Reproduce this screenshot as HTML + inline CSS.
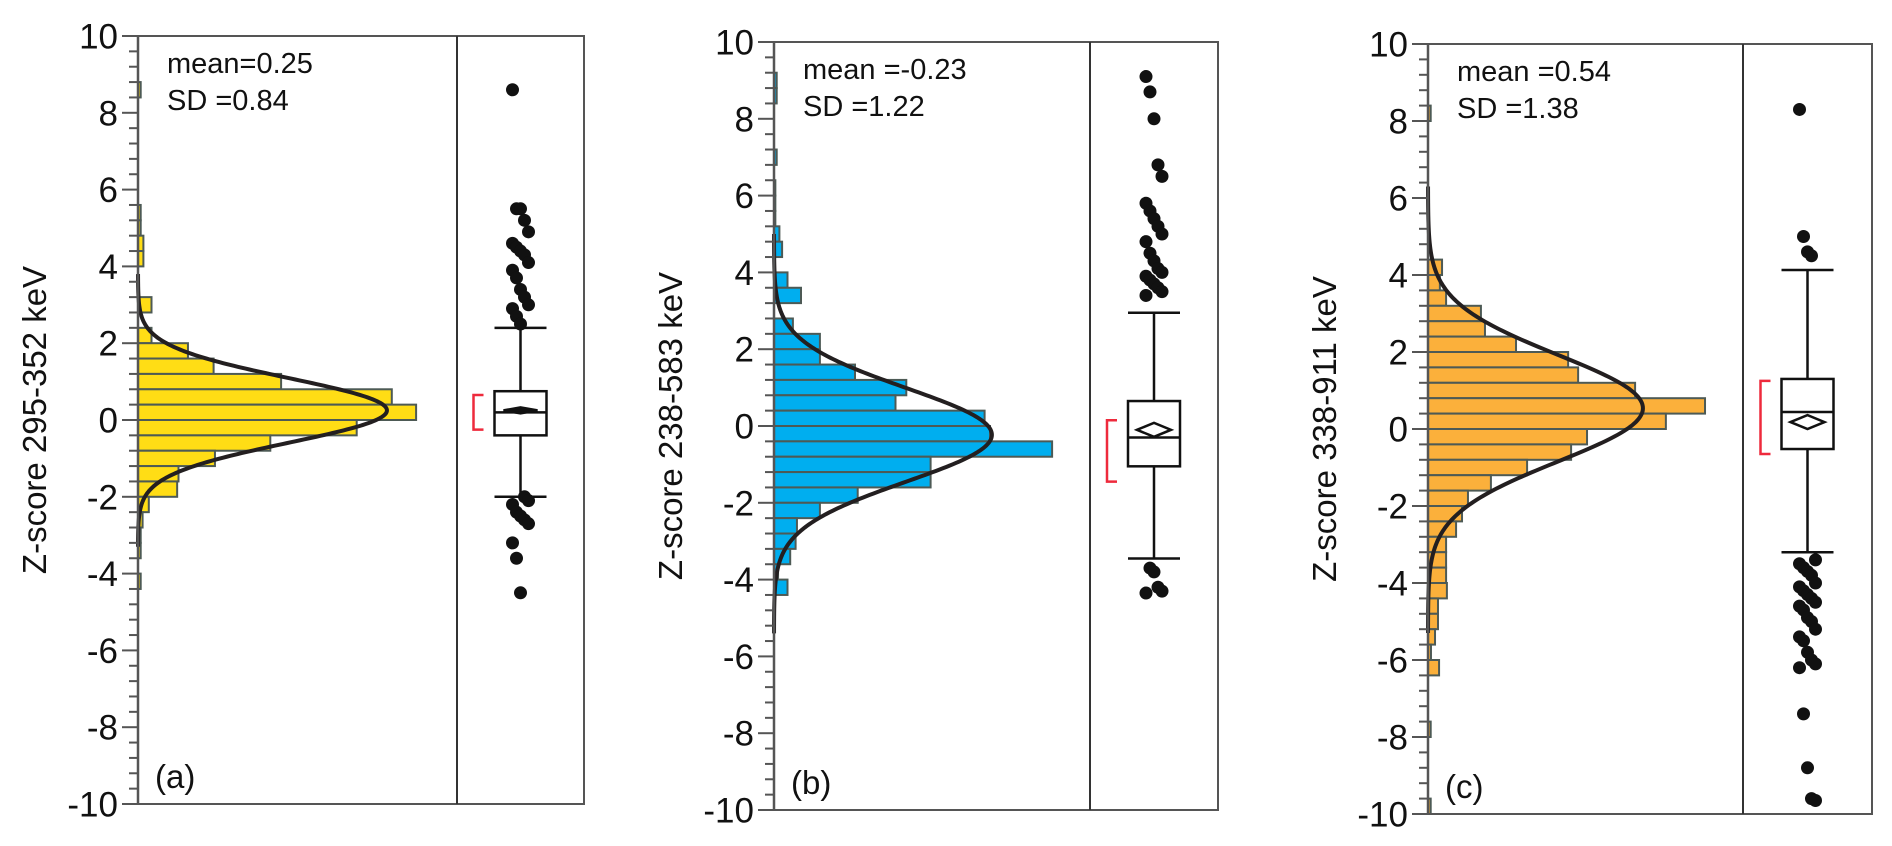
<!DOCTYPE html>
<html><head><meta charset="utf-8">
<style>
html,body{margin:0;padding:0;background:#fff;}
svg{display:block;font-family:"Liberation Sans",Arial,sans-serif;}
</style></head>
<body>
<svg id="chart" width="1892" height="846" viewBox="0 0 1892 846" xmlns="http://www.w3.org/2000/svg"></svg>
<script>
// ---- data: histogram bin lower edges (width 0.4) and counts ----
const binsA = [8.4,5.2,4.8,4.4,4.0,2.8,2.0,1.6,1.2,0.8,0.4,0.0,-0.4,-0.8,-1.2,-1.6,-2.0,-2.4,-2.8,-3.2,-3.6,-4.4];
const countsA = [1,1,1,2,2,5,5,18.5,28,53,94,103,81,49,28.5,15,14.5,4,1.7,1,1,1];
const binsB = [8.8,8.4,6.8,6.0,5.6,5.2,4.8,4.4,3.6,3.2,2.4,2.0,1.6,1.2,0.8,0.4,0.0,-0.4,-0.8,-1.2,-1.6,-2.0,-2.4,-2.8,-3.2,-3.6,-4.0,-4.4];
const countsB = [1,1,1,0.5,0.5,0.5,2,3,5,10,7,17,17,30,49,45,78,80,103,58,58,31,17,8.5,8,6,1.5,5];
const binsC = [8.0,4.0,3.6,3.2,2.8,2.4,2.0,1.6,1.2,0.8,0.4,0.0,-0.4,-0.8,-1.2,-1.6,-2.0,-2.4,-2.8,-3.2,-3.6,-4.0,-4.4,-4.8,-5.2,-5.6,-6.0,-6.4,-8.0,-10.0];
const countsC = [1,5.2,4.4,6.7,19.6,21.1,32.6,51.9,55.6,76.7,102.6,88.1,58.9,53,36.7,23.3,14.8,12.6,10.4,6.7,6.7,6.7,7,3.7,3.7,2.6,1.1,4.1,1,1];
// normal fit: mean, sd, peak count, curve range
const fitA = [0.25,0.84,92.2,3.8,-3.3];
const fitB = [-0.23,1.22,80.7,5.0,-5.4];
const fitC = [0.54,1.38,79.6,6.3,-5.3];
// box plots: q1, median, q3, lower whisker, upper whisker, mean-diamond, bracket lo, bracket hi
const boxA = [-0.4,0.2,0.75,-2.0,2.4,0.25,-0.25,0.65];
const boxB = [-1.05,-0.3,0.65,-3.45,2.95,-0.1,-1.45,0.15];
const boxC = [-0.52,0.44,1.3,-3.2,4.13,0.18,-0.65,1.25];
// outliers
const outA = [8.6,5.5,5.5,5.2,4.9,4.6,4.5,4.4,4.3,4.1,3.9,3.7,3.4,3.2,3.0,2.9,2.7,2.5,-2.0,-2.1,-2.2,-2.4,-2.5,-2.6,-2.7,-3.2,-3.6,-4.5];
const outB = [9.1,8.7,8.0,6.8,6.5,5.8,5.6,5.4,5.2,5.0,4.8,4.5,4.3,4.1,4.0,3.9,3.8,3.7,3.6,3.5,3.4,-3.7,-3.8,-4.2,-4.3,-4.35];
const outC = [8.3,5.0,4.6,4.5,-3.4,-3.5,-3.6,-3.7,-3.8,-4.0,-4.1,-4.2,-4.3,-4.4,-4.5,-4.6,-4.7,-4.9,-5.0,-5.2,-5.4,-5.5,-5.8,-6.0,-6.1,-6.2,-7.4,-8.8,-9.6,-9.65];
const tickLabels = ["10","8","6","4","2","0","-2","-4","-6","-8","-10"];
const titles = ["Z-score 295-352 keV","Z-score 238-583 keV","Z-score 338-911 keV"];
const meanTexts = ["mean=0.25","mean =-0.23","mean =0.54"];
const sdTexts = ["SD =0.84","SD =1.22","SD =1.38"];
const letters = ["(a)","(b)","(c)"];

const panels = [
  {id:'a',left:138,div:457,right:584,top:36,bottom:804,color:'#FFDD15',bins:binsA,counts:countsA,fit:fitA,box:boxA,out:outA,filled:true},
  {id:'b',left:774,div:1090,right:1218,top:42,bottom:810,color:'#00AEEF',bins:binsB,counts:countsB,fit:fitB,box:boxB,out:outB,filled:false},
  {id:'c',left:1428,div:1743,right:1872,top:44,bottom:814,color:'#FBB03B',bins:binsC,counts:countsC,fit:fitC,box:boxC,out:outC,filled:false}
];
const K = 2.7; // px per count
const svg = document.getElementById('chart');
const NS = 'http://www.w3.org/2000/svg';
function mk(tag, attrs, parent){
  const e = document.createElementNS(NS, tag);
  for (const k in attrs) e.setAttribute(k, attrs[k]);
  (parent||svg).appendChild(e);
  return e;
}
panels.forEach((p, pi) => {
  const g = mk('g', {});
  
  
  const y = v => p.top + (10 - v) / 20 * (p.bottom - p.top);
  const x = c => p.left + c * K;
  // histogram
  p.bins.forEach((lo, i) => {
    const r = mk('rect', {x:p.left, y:y(lo+0.4), width:Math.max(p.counts[i]*K,0.5), height:y(lo)-y(lo+0.4), fill:p.color, stroke:'#4d5a55', 'stroke-width':2}, g);
    
    
  });
  // normal curve
  const [m, sd, pk, hi, lo] = p.fit;
  let d = '';
  for (let j = 0; j <= 300; j++) {
    const v = hi - (hi - lo) * j / 300;
    const c = pk * Math.exp(-0.5 * Math.pow((v - m) / sd, 2));
    d += (j ? 'L' : 'M') + x(c).toFixed(2) + ',' + y(v).toFixed(2);
  }
  const cu = mk('path', {d:d, fill:'none', stroke:'#231f20', 'stroke-width':4}, g);
  
  
  // frame
  const fr = mk('rect', {x:p.left, y:p.top, width:p.right-p.left, height:p.bottom-p.top, fill:'none', stroke:'#555', 'stroke-width':2}, g);
  
  
  const dv = mk('line', {x1:p.div, x2:p.div, y1:p.top, y2:p.bottom, stroke:'#333', 'stroke-width':2}, g);
  
  
  const ax = mk('line', {x1:p.left, x2:p.left, y1:p.top, y2:p.bottom, stroke:'#555', 'stroke-width':2.5}, g);
  
  
  // ticks
  for (let t = 0; t <= 50; t++) {
    const v = 10 - t * 0.4;
    const major = (t % 5 === 0);
    const tk = mk('line', {x1:p.left - (major ? 16 : 9), x2:p.left, y1:y(v), y2:y(v), stroke:'#555', 'stroke-width':2}, g);
    
    
  }
  tickLabels.forEach((lab, i) => {
    const tx = mk('text', {x:p.left - 20, y:y(10 - i*2) + 12.5, 'text-anchor':'end', 'font-size':35, fill:'#111'}, g);
    tx.textContent = lab;
    
    
  });
  // axis title
  const cy = (p.top + p.bottom) / 2;
  const tx0 = p.left - 92;
  const tt = mk('text', {x:tx0, y:cy, 'text-anchor':'middle', 'font-size':33, fill:'#111', transform:'rotate(-90 '+tx0+' '+cy+')'}, g);
  tt.textContent = titles[pi];
  
  
  // stats text
  const mt = mk('text', {x:p.left + 29, y:p.top + 37, 'font-size':29, fill:'#111'}, g);
  mt.textContent = meanTexts[pi];
  
  
  const st = mk('text', {x:p.left + 29, y:p.top + 74, 'font-size':29, fill:'#111'}, g);
  st.textContent = sdTexts[pi];
  
  
  const lt = mk('text', {x:p.left + 17, y:p.bottom - 16, 'font-size':33, fill:'#111'}, g);
  lt.textContent = letters[pi];
  
  
  // box plot
  const cx = (p.div + p.right) / 2;
  const [q1, med, q3, wl, wh, mn, bl, bh] = p.box;
  const bw = 26;
  const wk = mk('path', {d:'M'+cx+','+y(q3)+'V'+y(wh)+'M'+(cx-bw)+','+y(wh)+'H'+(cx+bw)+'M'+cx+','+y(q1)+'V'+y(wl)+'M'+(cx-bw)+','+y(wl)+'H'+(cx+bw), stroke:'#111', 'stroke-width':2.5, fill:'none'}, g);
  
  
  const bx = mk('rect', {x:cx-bw, y:y(q3), width:2*bw, height:y(q1)-y(q3), fill:'#fff', stroke:'#111', 'stroke-width':2.5}, g);
  
  
  const md = mk('line', {x1:cx-bw, x2:cx+bw, y1:y(med), y2:y(med), stroke:'#111', 'stroke-width':2.5}, g);
  
  
  const dh = p.filled ? 3 : 7;
  const dm = mk('path', {d:'M'+(cx-17)+','+y(mn)+'L'+cx+','+(y(mn)-dh)+'L'+(cx+17)+','+y(mn)+'L'+cx+','+(y(mn)+dh)+'Z', fill:p.filled?'#111':'#fff', stroke:'#111', 'stroke-width':2.5}, g);
  
  
  const bk = mk('path', {d:'M'+(cx-37)+','+y(bh)+'H'+(cx-47)+'V'+y(bl)+'H'+(cx-37), fill:'none', stroke:'#EE2A3C', 'stroke-width':2.5}, g);
  
  
  p.out.forEach((v, i) => {
    const off = ((i % 5) - 2) * 4;
    const c = mk('circle', {cx:cx + off, cy:y(v), r:6.5, fill:'#111'}, g);
    
    
  });
});
</script>
</body></html>
